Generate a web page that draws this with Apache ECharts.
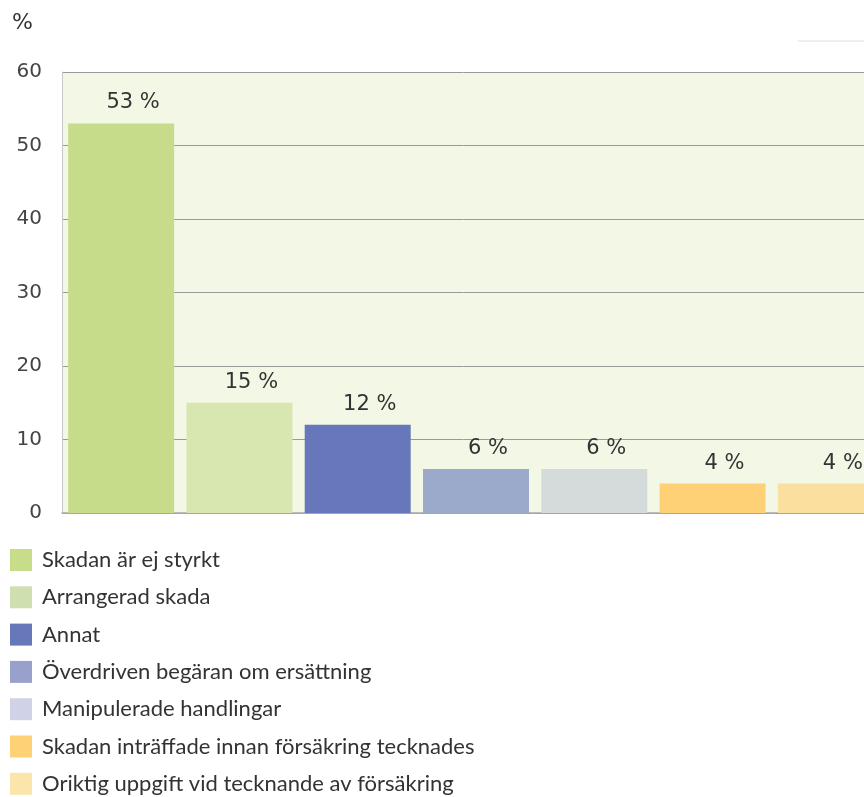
<!DOCTYPE html>
<html>
<head>
<meta charset="utf-8">
<script src="https://cdn.jsdelivr.net/npm/echarts@6/dist/echarts.min.js"></script>
<style>
html,body{margin:0;padding:0;background:#fff;}
#main{width:864px;height:797px;}
</style>
</head>
<body>
<div id="main"></div>
<script>
// data
var categories = ['Skadan är ej styrkt', 'Arrangerad skada', 'Annat', 'Överdriven begäran om ersättning',
	'Manipulerade handlingar', 'Skadan inträffade innan försäkring tecknades', 'Oriktig uppgift vid tecknande av försäkring'];
var values = [53, 15, 12, 6, 6, 4, 4];
var barColors = ['#c6dc8a', '#d8e6b0', '#6678bb', '#9ba9cb', '#d5dadb', '#fed177', '#fbdf9f'];
var legendColors = ['#c7dd8a', '#cfdfb0', '#6678b9', '#99a0cc', '#d0d3e8', '#fed177', '#fbe5ab'];
var yTicks = [0, 10, 20, 30, 40, 50, 60];

var fontName = 'Lato, "Liberation Sans", sans-serif';
var numFont = '"DejaVu Sans", sans-serif';
var myChart = echarts.init(document.getElementById('main'));

// bar data with per-bar colour
var barData = [];
for (var i = 0; i < values.length; i++) {
	barData.push({ value: values[i], itemStyle: { color: barColors[i] } });
}

// empty line series only to build the legend
var legendSeries = [];
for (var j = 0; j < categories.length; j++) {
	legendSeries.push({
		name: categories[j],
		type: 'line',
		data: [],
		itemStyle: { color: legendColors[j] },
		lineStyle: { color: legendColors[j] }
	});
}

var option = {
	animation: false,
	textStyle: { fontFamily: fontName },
	grid: {
		left: 62,
		top: 72,
		width: 828,
		height: 441,
		outerBoundsMode: 'none',
		show: true,
		backgroundColor: '#f3f7e6',
		borderWidth: 0
	},
	legend: {
		orient: 'vertical',
		left: 10,
		top: 549,
		padding: 0,
		height: 260,
		icon: 'rect',
		itemWidth: 22,
		itemHeight: 22,
		itemGap: 15.3,
		selectedMode: false,
		formatter: function(name){ return '{t|' + name + '}'; },
		textStyle: {
			fontSize: 22, lineHeight: 22, color: '#333', fontFamily: fontName,
			rich: { t: { fontSize: 22, lineHeight: 22, color: '#333', fontFamily: fontName, padding: [0, 0, 0, 5] } }
		},
		data: categories
	},
	xAxis: {
		type: 'category',
		data: categories,
		axisLine: { lineStyle: { color: '#aaa', width: 1.5 } },
		axisTick: { show: false },
		axisLabel: { show: false }
	},
	yAxis: {
		type: 'value',
		name: '%',
		nameLocation: 'end',
		nameGap: 38,
		nameTextStyle: { fontSize: 22, color: '#333', fontFamily: numFont, align: 'right', padding: [0, 29, 0, 0] },
		min: yTicks[0],
		max: yTicks[yTicks.length - 1],
		interval: 10,
		axisLine: { show: true, lineStyle: { color: '#c8c8c8' } },
		axisTick: { show: false },
		axisLabel: { fontSize: 20, color: '#444', fontFamily: numFont, margin: 20 },
		splitLine: { lineStyle: { color: '#9a9a9a', width: 1 } }
	},
	graphic: [{
		type: 'line',
		shape: { x1: 798, y1: 41, x2: 864, y2: 41 },
		style: { stroke: '#dddddd', lineWidth: 1 }
	}],
	series: [{
		name: 'bars',
		type: 'bar',
		barWidth: 106,
		data: barData,
		label: {
			show: true,
			position: 'top',
			distance: 10,
			offset: [12, 0],
			fontSize: 21,
			fontFamily: numFont,
			color: '#333',
			formatter: '{c} %'
		}
	}].concat(legendSeries)
};
myChart.setOption(option);
</script>
</body>
</html>
